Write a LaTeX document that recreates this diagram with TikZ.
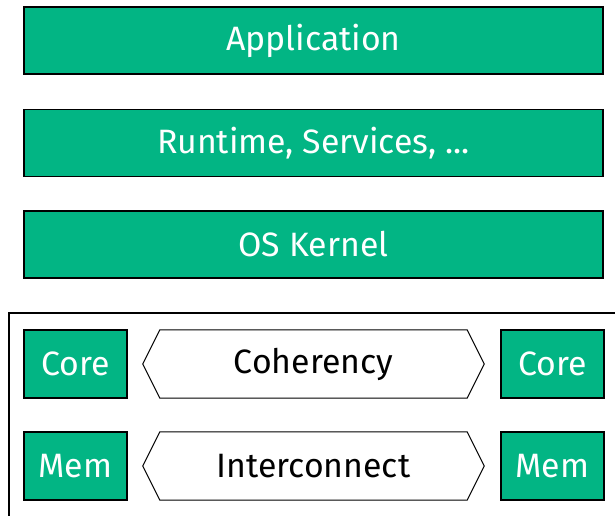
\documentclass[tikz,border=0pt]{standalone}
\usepackage{fontspec}
\setmainfont{Fira Sans}
\usetikzlibrary{calc}
\definecolor{boxgreen}{RGB}{2,181,132}
\begin{document}
\begin{tikzpicture}[x=1pt,y=-1pt,
  txt/.style={font=\fontsize{33.8}{40}\selectfont},
  layer/.style={txt,draw=black,line width=1.5pt,fill=boxgreen,text=white,
    minimum width=579pt,minimum height=67pt,inner sep=0pt},
  unit/.style={txt,draw=black,line width=1.5pt,fill=boxgreen,text=white,
    minimum width=103pt,minimum height=68pt,inner sep=0pt},
  bus/.style={txt,draw=none,text=black,minimum width=307pt,minimum height=68pt,inner sep=0pt},
  hex/.style={draw=black,line width=1pt,line join=miter},
  frame/.style={draw=black,line width=1.5pt}]
\useasboundingbox (0,0) rectangle (615,516);
\node[layer] (app) at (313.5,40.5) {Application};
\node[layer] (rt) at (313.5,143) {Runtime, Services, ...};
\node[layer] (os) at (313.5,244.5) {OS Kernel};
\draw[frame] (9,313) rectangle (640,540);
\node[unit] (core1) at (75.5,364) {Core};
\node[unit] (core2) at (552.5,364) {Core};
\node[unit] (mem1) at (75.5,466) {Mem};
\node[unit] (mem2) at (552.5,466) {Mem};
\node[bus] (coh) at (313.5,364) {Coherency};
\node[bus] (ic) at (313.5,466) {Interconnect};
\foreach \n in {coh,ic}{
  \draw[hex] (\n.north west) -- (\n.north east) -- ($(\n.east)+(17,0)$)
    -- (\n.south east) -- (\n.south west) -- ($(\n.west)+(-17,0)$) -- cycle;
}
\end{tikzpicture}
\end{document}
